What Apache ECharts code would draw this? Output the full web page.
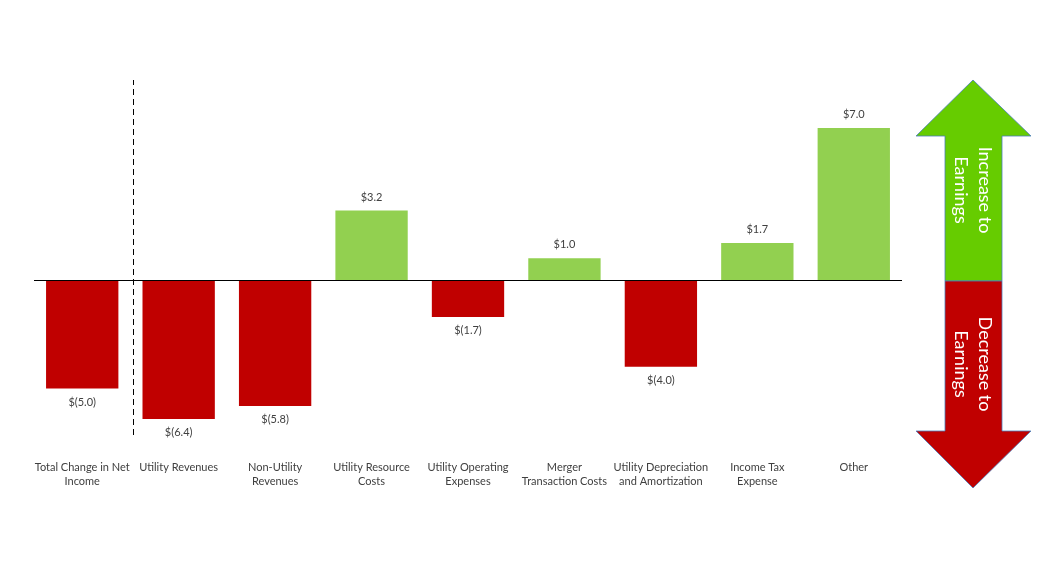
<!DOCTYPE html>
<html>
<head>
<meta charset="utf-8">
<script src="https://cdn.jsdelivr.net/npm/echarts@6/dist/echarts.min.js"></script>
<style>
html,body{margin:0;padding:0;background:#fff;}
#chart{width:1058px;height:571px;}
</style>
</head>
<body>
<div id="chart"></div>
<script>
const categories = [
  'Total Change in Net\nIncome',
  'Utility Revenues',
  'Non-Utility\nRevenues',
  'Utility Resource\nCosts',
  'Utility Operating\nExpenses',
  'Merger\nTransaction Costs',
  'Utility Depreciation\nand Amortization',
  'Income Tax\nExpense',
  'Other'
];
const values = [-5.0, -6.4, -5.8, 3.2, -1.7, 1.0, -4.0, 1.7, 7.0];
const separatorAt = [1.03];

const RED = '#C00000';
const GREEN = '#92D050';
const FONT = 'Lato, "Liberation Sans", sans-serif';

function fmt(v) {
  return v < 0 ? '$(' + Math.abs(v).toFixed(1) + ')' : '$' + v.toFixed(1);
}

const chart = echarts.init(document.getElementById('chart'));
chart.setOption({
  animation: false,
  backgroundColor: '#ffffff',
  textStyle: { fontFamily: FONT },
  grid: { left: 34, right: 156, top: 80, bottom: 136 },
  xAxis: [
    {
      type: 'category',
      data: categories,
      axisLine: { show: false },
      axisTick: { show: false },
      splitLine: { show: false },
      axisLabel: {
        interval: 0, margin: 25, fontSize: 11, lineHeight: 14,
        color: '#404040', fontFamily: FONT
      }
    },
    { type: 'value', min: 0, max: 9, show: false, splitLine: { show: false } }
  ],
  yAxis: { type: 'value', min: -7.14, max: 9.21, show: false, splitLine: { show: false } },
  series: [
    {
      type: 'bar',
      barCategoryGap: '25%',
      data: values.map(v => ({
        value: v,
        itemStyle: { color: v < 0 ? RED : GREEN },
        label: { position: v < 0 ? 'bottom' : 'top' }
      })),
      label: {
        show: true, distance: 8, fontSize: 11, color: '#404040', fontFamily: FONT,
        formatter: p => fmt(p.value)
      },
      markLine: {
        silent: true, symbol: 'none',
        label: { show: false },
        lineStyle: { color: '#000', width: 1, type: 'solid' },
        data: [{ yAxis: 0 }]
      },
      z: 2
    },
    {
      type: 'line',
      xAxisIndex: 1,
      data: [],
      markLine: {
        silent: true, symbol: 'none',
        label: { show: false },
        lineStyle: { color: '#000', width: 1, type: [6, 4] },
        data: separatorAt.map(x => ({ xAxis: x }))
      }
    }
  ],
  graphic: [
    {
      type: 'polygon',
      shape: { points: [[973, 80], [1031, 136], [1002, 136], [1002, 281], [945, 281], [945, 136], [916, 136]] },
      style: { fill: '#66CC00', stroke: '#4A7EBB', lineWidth: 0.8 }
    },
    {
      type: 'polygon',
      shape: { points: [[945, 281], [1002, 281], [1002, 431], [1031, 431], [973, 488], [916, 431], [945, 431]] },
      style: { fill: '#C00000', stroke: '#4A7EBB', lineWidth: 0.8 }
    },
    {
      type: 'text',
      x: 973, y: 190,
      rotation: -Math.PI / 2,
      style: {
        text: 'Increase to\nEarnings', fill: '#fff', fontSize: 18, lineHeight: 24,
        fontFamily: FONT, align: 'center', verticalAlign: 'middle'
      }
    },
    {
      type: 'text',
      x: 973, y: 364,
      rotation: -Math.PI / 2,
      style: {
        text: 'Decrease to\nEarnings', fill: '#fff', fontSize: 18, lineHeight: 24,
        fontFamily: FONT, align: 'center', verticalAlign: 'middle'
      }
    }
  ]
});
</script>
</body>
</html>
